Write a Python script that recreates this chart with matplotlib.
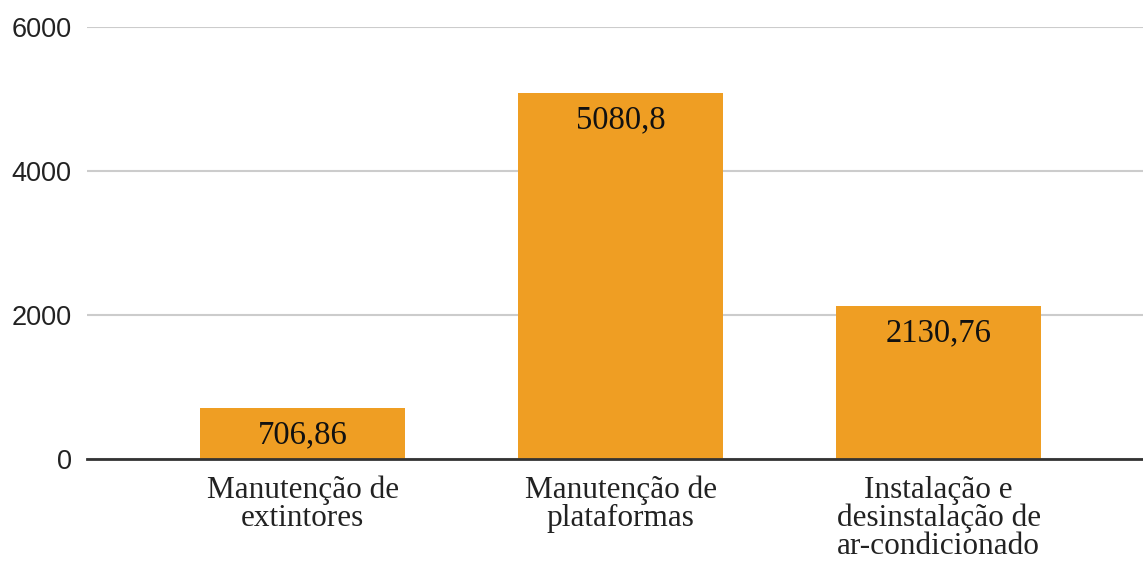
import matplotlib
matplotlib.use("Agg")
import matplotlib.pyplot as plt

categories = ["Manutenção de\nextintores", "Manutenção de\nplataformas",
              "Instalação e\ndesinstalação de\nar-condicionado"]
values = [706.86, 5080.8, 2130.76]
value_labels = ["706,86", "5080,8", "2130,76"]
yticks = [0, 2000, 4000, 6000]

fig = plt.figure(figsize=(11.43, 5.62), dpi=100)
ax = fig.add_axes([87/1143, 1 - 459/562, 1 - 87/1143, (459 - 27)/562])

x = list(range(len(categories)))
bars = ax.bar(x, values, width=0.645, color="#EF9E23", zorder=3)

ax.set_xlim(-0.678, 2.642)
ax.set_ylim(0, 6000)
ax.set_yticks(yticks)
ax.set_yticklabels([str(t) for t in yticks], fontsize=19.5, family="Liberation Sans", color="#222222")
ax.yaxis.grid(True, color="#cccccc", linewidth=1.5, zorder=0)
ax.set_axisbelow(True)
ax.tick_params(axis="y", length=0, pad=11)
ax.tick_params(axis="x", length=0, pad=12)
ax.set_xticks(x)
ax.set_xticklabels(categories, fontsize=22.5, family="Liberation Serif", color="#222222",
                   linespacing=0.95, va="top")

for s in ["top", "right", "left"]:
    ax.spines[s].set_visible(False)
ax.spines["bottom"].set_color("#333333")
ax.spines["bottom"].set_linewidth(2)
ax.spines["bottom"].set_zorder(4)

for xi, v, lab in zip(x, values, value_labels):
    ax.annotate(lab, (xi, v), xytext=(0, -19.5), textcoords="offset points",
                ha="center", va="center", fontsize=23.5, family="Liberation Serif",
                color="#111111", zorder=5)

fig.savefig("out.png", dpi=100)
